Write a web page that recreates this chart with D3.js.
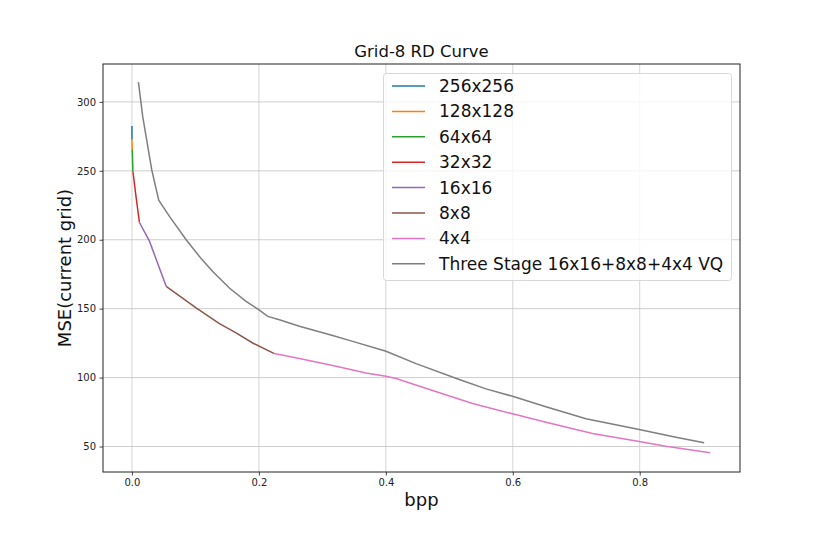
<!DOCTYPE html>
<html><head><meta charset="utf-8">
<script src="https://cdn.jsdelivr.net/npm/d3@7"></script>
<style>body{margin:0;background:#fff;font-family:"DejaVu Sans",sans-serif;}</style>
</head><body><svg id="c" width="822" height="540"></svg>
<script>
const seriesNames = ["256x256","128x128","64x64","32x32","16x16","8x8","4x4","Three Stage 16x16+8x8+4x4 VQ"];
const seriesColors = ["#1f77b4","#ff7f0e","#2ca02c","#d62728","#9467bd","#8c564b","#e377c2","#7f7f7f"];
const bpp256 = [0.0, 0.0];
const mse256 = [282.6, 272.5];
const bpp128 = [0.0, 0.0005];
const mse128 = [272.5, 265.7];
const bpp64 = [0.0005, 0.0015];
const mse64 = [265.7, 249.5];
const bpp32 = [0.0015, 0.0065, 0.0118];
const mse32 = [249.5, 231.0, 212.5];
const bpp16 = [0.0118, 0.0276, 0.0539];
const mse16 = [212.5, 199.0, 166.2];
const bpp8 = [0.0539, 0.1011, 0.1378, 0.1641, 0.1902, 0.2244];
const mse8 = [166.2, 150.5, 139.1, 132.4, 125.1, 117.4];
const bpp4 = [0.2244, 0.2638, 0.3162, 0.3688, 0.4003, 0.4161, 0.4737, 0.5367, 0.5997, 0.6523, 0.7257, 0.7992, 0.8413, 0.911];
const mse4 = [117.4, 113.8, 108.7, 103.4, 100.9, 99.3, 90.6, 81.2, 73.7, 67.6, 59.4, 53.6, 50.2, 45.4];
const bppVQ = [0.0102, 0.017, 0.0312, 0.0422, 0.0591, 0.0854, 0.1063, 0.1272, 0.1535, 0.1798, 0.1997, 0.2139, 0.2323, 0.2638, 0.3162, 0.3425, 0.4003, 0.4476, 0.5157, 0.5578, 0.5997, 0.6496, 0.7153, 0.7992, 0.857, 0.9016];
const mseVQ = [314.3, 289.3, 250.7, 228.7, 216.9, 200.0, 187.9, 177.0, 165.0, 155.3, 149.3, 144.4, 142.0, 137.2, 130.6, 127.0, 119.1, 110.1, 98.6, 91.8, 86.4, 79.2, 70.1, 62.3, 56.7, 52.7];
const xTicks = [0.0, 0.2, 0.4, 0.6, 0.8];
const yTicks = [50, 100, 150, 200, 250, 300];
const titleText = "Grid-8 RD Curve";
const xLabel = "bpp";
const yLabel = "MSE(current grid)";

const allX = [bpp256,bpp128,bpp64,bpp32,bpp16,bpp8,bpp4,bppVQ];
const allY = [mse256,mse128,mse64,mse32,mse16,mse8,mse4,mseVQ];

const L=103, R=740, T=64, B=472;
const x = d3.scaleLinear().domain([-0.0456, 0.958]).range([L,R]);
const y = d3.scaleLinear().domain([31.5, 327.5]).range([B,T]);
const svg = d3.select("#c");
const font = "DejaVu Sans, sans-serif";

// grid
const g = svg.append("g");
g.selectAll(".vg").data(xTicks).enter().append("line")
 .attr("x1",d=>x(d)).attr("x2",d=>x(d)).attr("y1",T).attr("y2",B)
 .attr("stroke","#d0d0d0").attr("stroke-width",0.9);
g.selectAll(".hg").data(yTicks).enter().append("line")
 .attr("y1",d=>y(d)).attr("y2",d=>y(d)).attr("x1",L).attr("x2",R)
 .attr("stroke","#c8c8c8").attr("stroke-width",0.9);

// axes
const xa = svg.append("g").attr("transform",`translate(0,${B})`)
 .call(d3.axisBottom(x).tickValues(xTicks).tickFormat(d3.format(".1f")).tickSize(3.5).tickPadding(3.5));
const ya = svg.append("g").attr("transform",`translate(${L},0)`)
 .call(d3.axisLeft(y).tickValues(yTicks).tickFormat(d3.format("d")).tickSize(3.5).tickPadding(3.5));
[xa,ya].forEach(a=>{
  a.select(".domain").remove();
  a.selectAll("text").attr("font-family",font).attr("font-size",10).attr("fill","#222");
  a.selectAll("line").attr("stroke","#333").attr("stroke-width",0.9);
});

// lines
const line = d3.line().x(d=>x(d[0])).y(d=>y(d[1]));
allX.forEach((xs,i)=>{
  const pts = xs.map((v,j)=>[v, allY[i][j]]);
  svg.append("path").datum(pts).attr("d",line).attr("fill","none")
   .attr("stroke",seriesColors[i]).attr("stroke-width",1.5);
});

// frame
svg.append("rect").attr("x",L).attr("y",T).attr("width",R-L).attr("height",B-T)
 .attr("fill","none").attr("stroke","#222").attr("stroke-width",1);

// title / labels
svg.append("text").attr("x",(L+R)/2).attr("y",T-7).attr("text-anchor","middle")
 .attr("font-family",font).attr("font-size",16.5).attr("fill","#111").text(titleText);
svg.append("text").attr("x",(L+R)/2).attr("y",506).attr("text-anchor","middle")
 .attr("font-family",font).attr("font-size",18).attr("fill","#111").text(xLabel);
svg.append("text").attr("transform",`translate(71,${(T+B)/2}) rotate(-90)`).attr("text-anchor","middle")
 .attr("font-family",font).attr("font-size",18).attr("fill","#111").text(yLabel);

// legend
const lg = svg.append("g");
lg.append("rect").attr("x",383.5).attr("y",73.5).attr("width",348).attr("height",207).attr("rx",3)
 .attr("fill","rgba(255,255,255,0.8)").attr("stroke","#d8d8d8").attr("stroke-width",1);
seriesNames.forEach((n,i)=>{
  const cy = 86 + i*25.4;
  lg.append("line").attr("x1",392).attr("x2",425).attr("y1",cy).attr("y2",cy)
   .attr("stroke",seriesColors[i]).attr("stroke-width",1.5);
  lg.append("text").attr("x",439).attr("y",cy+6).attr("font-family",font).attr("font-size",17)
   .attr("fill","#111").text(n);
});
</script></body></html>
